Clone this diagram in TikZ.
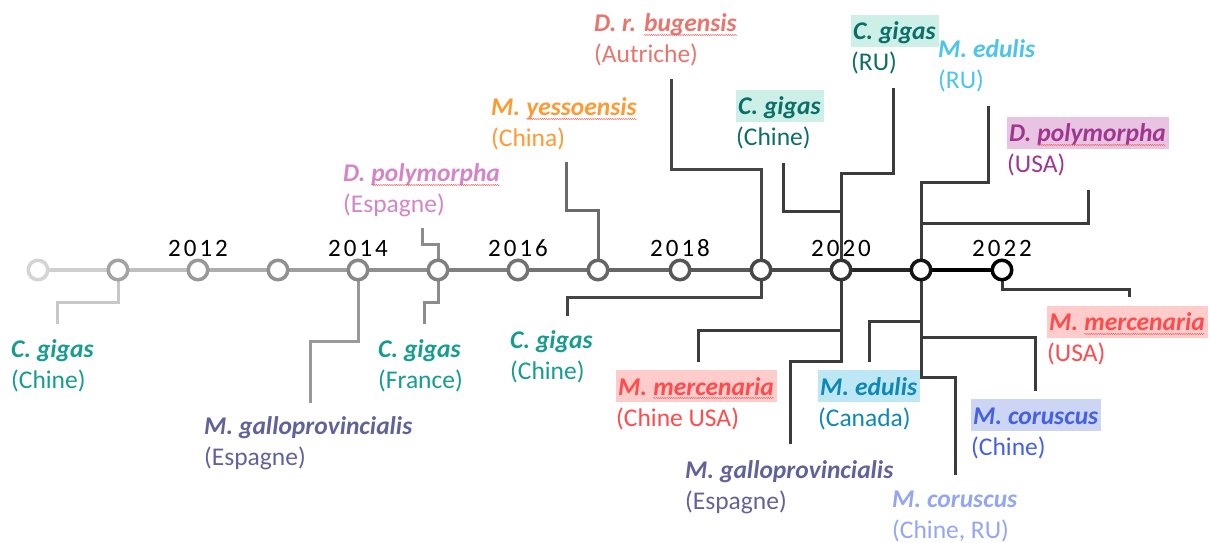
\documentclass[tikz,border=0pt]{standalone}
\usepackage{fontspec}
\setmainfont{Carlito}
\usetikzlibrary{backgrounds,decorations.pathmorphing}
\definecolor{cteal}{HTML}{179C92}
\definecolor{cdteal}{HTML}{0B6E67}
\definecolor{hmint}{HTML}{CCF0E8}
\definecolor{cgallo}{HTML}{62629A}
\definecolor{corchid}{HTML}{D385C8}
\definecolor{corange}{HTML}{FF9A33}
\definecolor{csalmon}{HTML}{E8756D}
\definecolor{cedl}{HTML}{4CC4EC}
\definecolor{cpurple}{HTML}{A0368F}
\definecolor{hpurple}{HTML}{E8C4E2}
\definecolor{cmerc}{HTML}{FF4B4B}
\definecolor{hmerc}{HTML}{FFCCCC}
\definecolor{cedd}{HTML}{0E88B4}
\definecolor{hedd}{HTML}{BDE7F5}
\definecolor{ccor}{HTML}{4560E0}
\definecolor{hcor}{HTML}{CDD5F5}
\definecolor{ccorl}{HTML}{94A6F0}
\definecolor{squigred}{HTML}{F06060}
\newcommand\sq[1]{\tikz[baseline=(w.base)]{\node[inner sep=0pt,outer sep=0pt] (w) {#1};\draw[squigred, line width=0.45bp, decorate, decoration={snake, amplitude=0.6bp, segment length=2.2bp}] ([yshift=-3bp]w.base west) -- ([yshift=-3bp]w.base east);}}
\newcommand\hl[2]{{\setlength{\fboxsep}{0pt}\colorbox{#1}{\rule[-7bp]{0pt}{32bp}\hspace{2bp}#2\hspace{3bp}}}}
\newcommand\lab[6]{\node[labtxt, text=#4] (#1) at (#2,#3) {\vtop{\hbox{\bfseries\itshape #5}\hbox{#6}}};}
\tikzset{
  labtxt/.style={anchor=base west, inner sep=0pt, font=\fontsize{25.5bp}{31bp}\selectfont},
  dot/.style={circle, minimum size=19.5bp, inner sep=0pt, line width=3.5bp, fill=white},
  conn/.style={line width=3bp},
  seg/.style={line width=4bp},
  yearlab/.style={anchor=base, inner sep=0pt, font=\fontsize{25bp}{31bp}\selectfont\addfontfeatures{LetterSpace=12}}
}
\begin{document}
\begin{tikzpicture}[x=1bp,y=-1bp]
\useasboundingbox (0,0) rectangle (1210,543);
% circles
\foreach \x/\g [count=\i from 0] in {38/17,118/36,198/40,278/43,358/47,438/50,518/55,598/60,680/66,761/72,841/80,921/92,1002/100}{
  \node[dot, draw=black!\g] (c\i) at (\x,270) {};
}
% years
\node[yearlab] (y12) at (198,257) {2012};
\node[yearlab] (y14) at (358,257) {2014};
\node[yearlab] (y16) at (518,257) {2016};
\node[yearlab] (y18) at (680,257) {2018};
\node[yearlab] (y20) at (841,257) {2020};
\node[yearlab] (y22) at (1002,257) {2022};
% labels below
\lab{l1}{11}{358}{cteal}{C. gigas}{(Chine)}
\lab{l2}{204}{434}{cgallo}{M. galloprovincialis}{(Espagne)}
\lab{l3}{378}{358}{cteal}{C. gigas}{(France)}
\lab{l4}{510}{349}{cteal}{C. gigas}{(Chine)}
\lab{l5}{616}{395}{cmerc}{\hl{hmerc}{M. \sq{mercenaria}}}{(Chine USA)}
\lab{l6}{685}{478}{cgallo}{M. galloprovincialis}{(Espagne)}
\lab{l7}{818}{395}{cedd}{\hl{hedd}{M. edulis}}{(Canada)}
\lab{l8}{971}{424}{ccor}{\hl{hcor}{M. coruscus}}{(Chine)}
\lab{l9}{892}{507}{ccorl}{M. coruscus}{(Chine, RU)}
\lab{l10}{1047}{331}{cmerc}{\hl{hmerc}{M. \sq{mercenaria}}}{(USA)}
% labels above
\lab{u1}{343}{182}{corchid}{D. \sq{polymorpha}}{(Espagne)}
\lab{u2}{491}{116}{corange}{M. \sq{yessoensis}}{(China)}
\lab{u3}{594}{32}{csalmon}{D. r. \sq{bugensis}}{(Autriche)}
\lab{u4}{736}{115}{cdteal}{\hl{hmint}{C. gigas}}{(Chine)}
\lab{u5}{851}{40}{cdteal}{\hl{hmint}{C. gigas}}{(RU)}
\lab{u6}{938}{58}{cedl}{M. edulis}{(RU)}
\lab{u7}{1007}{142}{cpurple}{\hl{hpurple}{D. \sq{polymorpha}}}{(USA)}
% connector end points
\coordinate (e1) at (57,324);
\coordinate (e2) at (310,403);
\coordinate (e3) at (424,324);
\coordinate (e4) at (567,316);
\coordinate (e5) at (698,362);
\coordinate (e6) at (790,444);
\coordinate (e7) at (869,362);
\coordinate (e8) at (1035,391);
\coordinate (e9) at (955,475);
\coordinate (e10) at (1129,297);
\coordinate (a1) at (422,228);
\coordinate (a2) at (566,162);
\coordinate (a3) at (671,79);
\coordinate (a4) at (783,163);
\coordinate (a5) at (893,88);
\coordinate (a6) at (988,106);
\coordinate (a7) at (1088,190);
\begin{scope}[on background layer]
  % connectors
  \draw[conn, draw=black!22] (c1.center) -- ++(0,33) -| (e1);
  \draw[conn, draw=black!40] (c4.center) -- ++(0,72) -| (e2);
  \draw[conn, draw=black!45] (c5.center) -- ++(0,33) -| (e3);
  \draw[conn, draw=black!45] (c5.center) -- ++(0,-25) -| (a1);
  \draw[conn, draw=black!58] (c7.center) -- ++(0,-59) -| (a2);
  \draw[conn, draw=black!73] (c9.center) -- ++(0,28) -| (e4);
  \draw[conn, draw=black!73] (c9.center) -- ++(0,-100) -| (a3);
  \draw[conn, draw=black!77] (c10.center) -- ++(0,92) -| (e6);
  \draw[conn, draw=black!77] (c10.center) ++(0,61) -| (e5);
  \draw[conn, draw=black!77] (c10.center) -- ++(0,-96) -| (a5);
  \draw[conn, draw=black!77] (c10.center) ++(0,-58) -| (a4);
  \draw[conn, draw=black!77] (c11.center) -- ++(0,108) -| (e9);
  \draw[conn, draw=black!77] (c11.center) ++(0,52) -| (e7);
  \draw[conn, draw=black!77] (c11.center) ++(0,68) -| (e8);
  \draw[conn, draw=black!77] (c11.center) -- ++(0,-87) -| (a6);
  \draw[conn, draw=black!77] (c11.center) ++(0,-46) -| (a7);
  \draw[conn, draw=black!77] (c12.center) -- ++(0,20) -| (e10);
  % main line
  \foreach \a/\b/\g in {0/1/19,1/2/25,2/3/32,3/4/38,4/5/44,5/6/50,6/7/55,7/8/60,8/9/65,9/10/71,10/11/85,11/12/100}{
    \draw[seg, draw=black!\g] (c\a.center) -- (c\b.center);
  }
\end{scope}
\end{tikzpicture}
\end{document}
